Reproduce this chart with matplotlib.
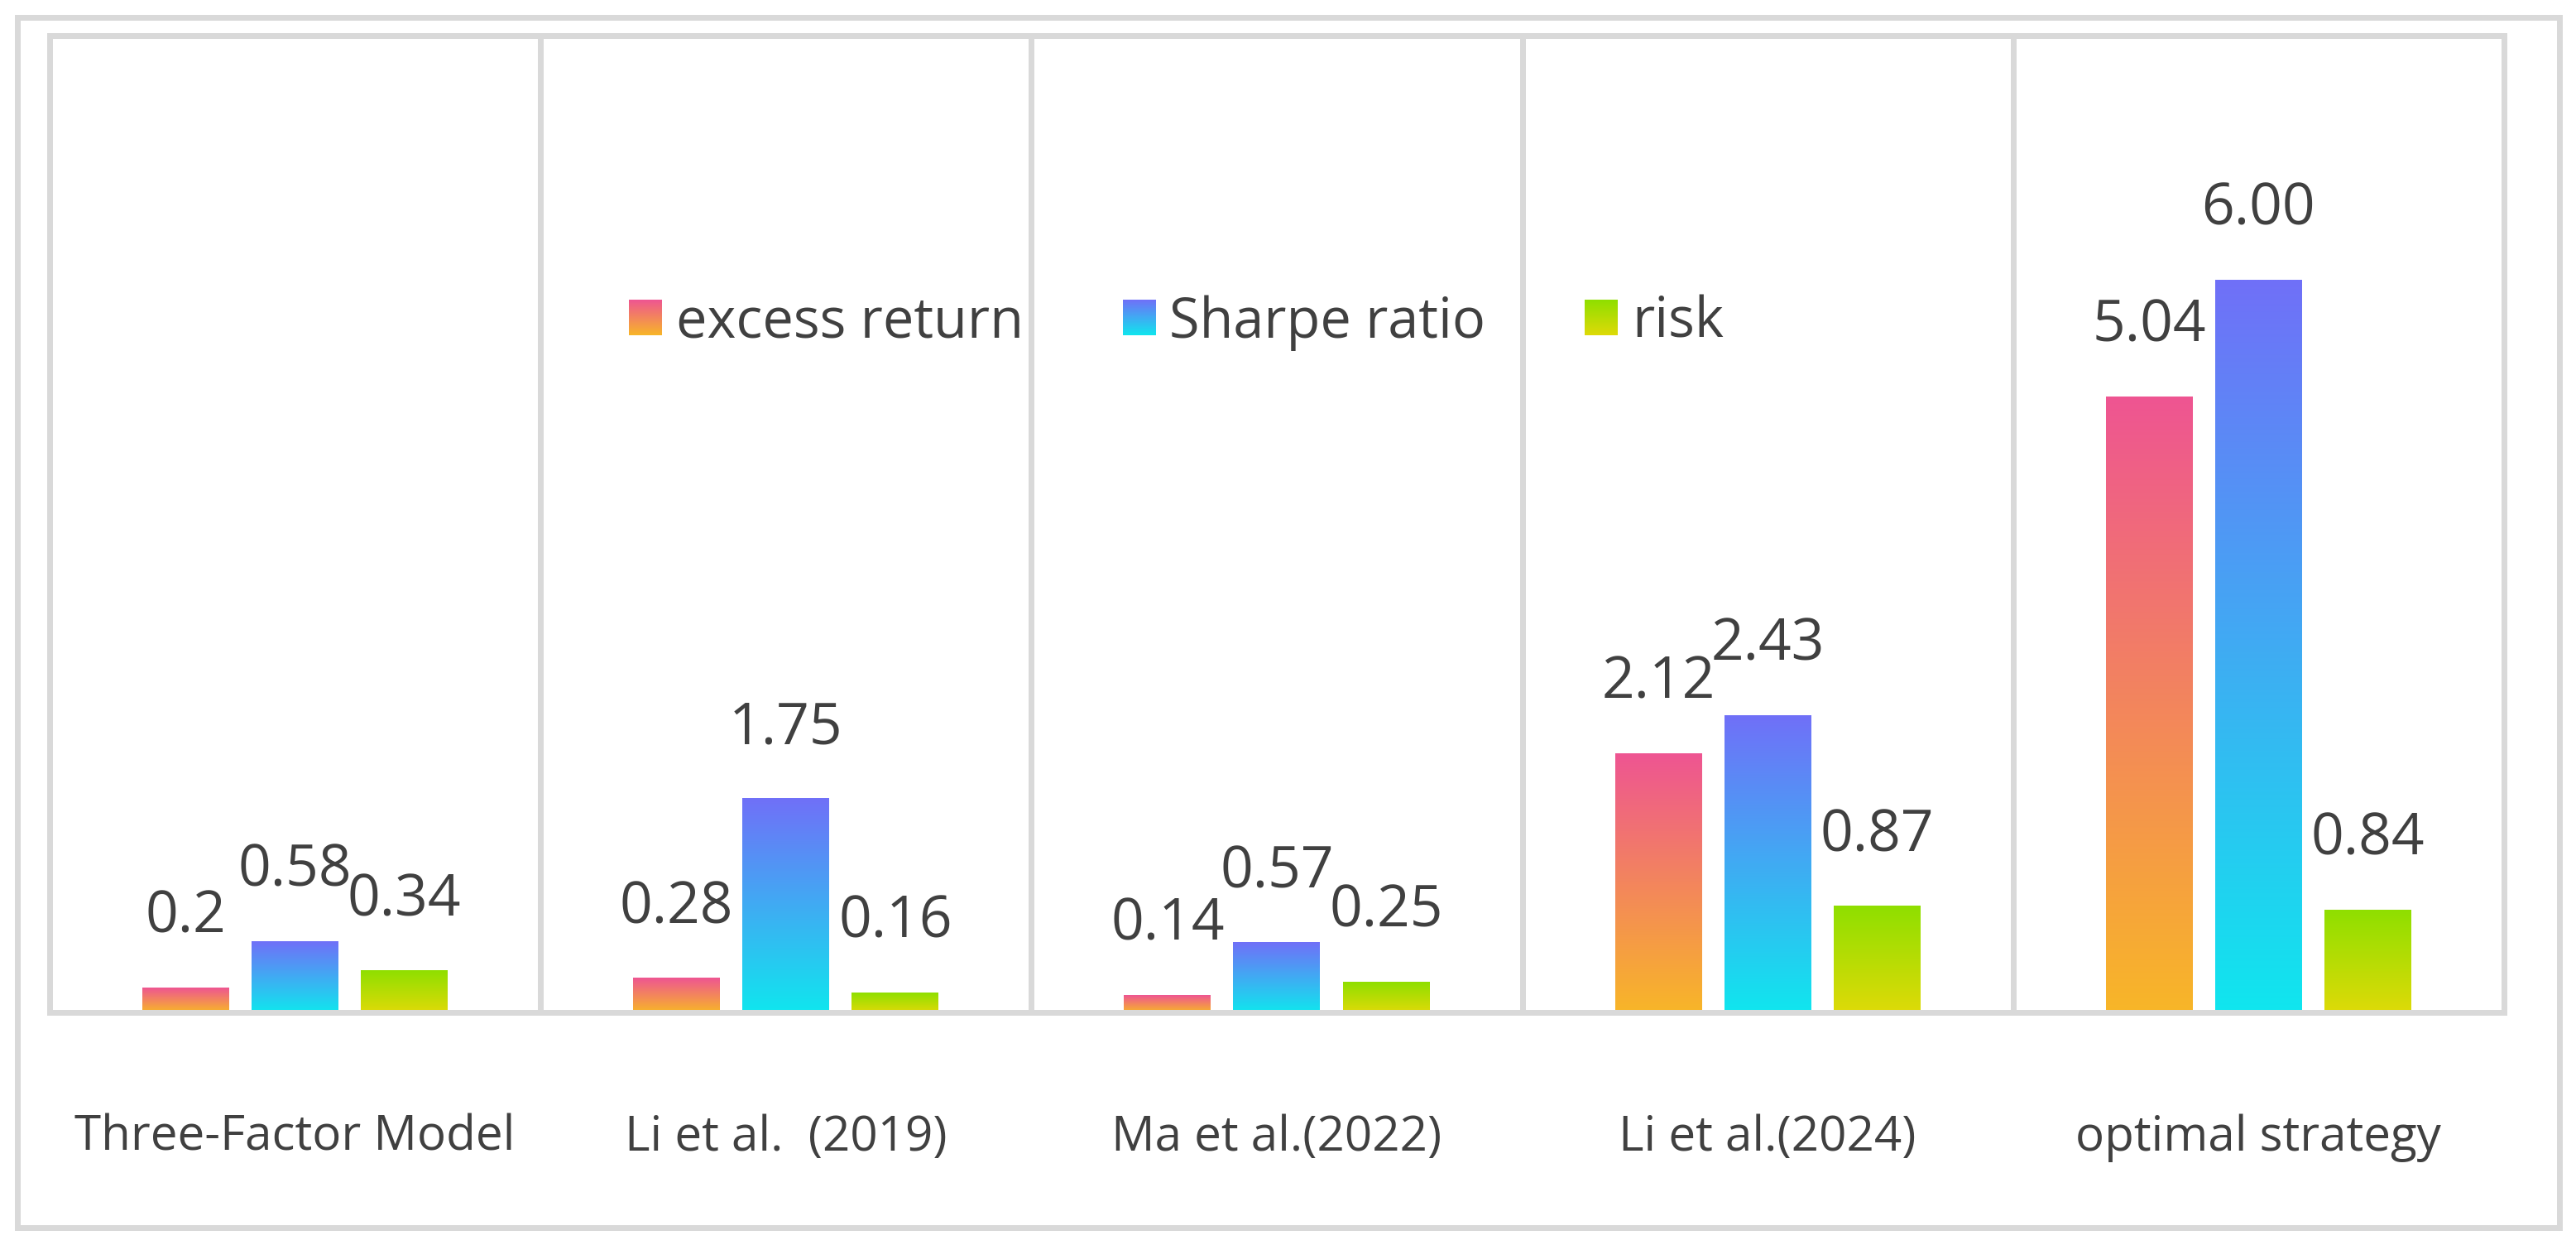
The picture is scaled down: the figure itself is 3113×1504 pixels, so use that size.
import numpy as np
import matplotlib
matplotlib.use("Agg")
import matplotlib.pyplot as plt
from matplotlib.patches import Rectangle
from matplotlib.legend_handler import HandlerBase
from matplotlib.image import BboxImage
from matplotlib.transforms import Bbox, TransformedBbox

plt.rcParams['font.family'] = ['Open Sans', 'DejaVu Sans']

categories = ['Three-Factor Model', 'Li et al.  (2019)', 'Ma et al.(2022)',
              'Li et al.(2024)', 'optimal strategy']
series_names = ['excess return', 'Sharpe ratio', 'risk']
excess_return = [0.2, 0.28, 0.14, 2.12, 5.04]
sharpe_ratio = [0.58, 1.75, 0.57, 2.43, 6.00]
risk = [0.34, 0.16, 0.25, 0.87, 0.84]
excess_labels = ['0.2', '0.28', '0.14', '2.12', '5.04']
sharpe_labels = ['0.58', '1.75', '0.57', '2.43', '6.00']
risk_labels = ['0.34', '0.16', '0.25', '0.87', '0.84']

# top colour -> bottom colour of each bar gradient
gradients = [('#EE5592', '#F8B628'),
             ('#7070F8', '#10E6EE'),
             ('#8FDF00', '#DEDA08')]

GREY = '#D9D9D9'
TEXT = '#404040'


def grad_array(top, bottom, n=256):
    t = np.linspace(0, 1, n)[:, None]
    c0 = np.array(matplotlib.colors.to_rgb(top))
    c1 = np.array(matplotlib.colors.to_rgb(bottom))
    return (c0 * (1 - t) + c1 * t).reshape(n, 1, 3)


class GradHandler(HandlerBase):
    def __init__(self, top, bottom):
        super().__init__()
        self.arr = grad_array(top, bottom)

    def create_artists(self, legend, orig_handle, xdescent, ydescent,
                       width, height, fontsize, trans):
        bb = TransformedBbox(Bbox.from_bounds(-xdescent, -ydescent, width, height), trans)
        img = BboxImage(bb, origin='upper', interpolation='bilinear')
        img.set_data(self.arr)
        return [img]


fig = plt.figure(figsize=(31.13, 15.04), dpi=100)
ax = fig.add_axes([0.01927, 0.18684, 0.95278, 0.78457])

x = np.arange(len(categories))
width = 0.177
step = 0.2226
data = [excess_return, sharpe_ratio, risk]
labels = [excess_labels, sharpe_labels, risk_labels]

for i, (vals, labs, (top, bot)) in enumerate(zip(data, labels, gradients)):
    bars = ax.bar(x + (i - 1) * step, vals, width, color='none', zorder=2)
    for b, lab in zip(bars, labs):
        x0, y0 = b.get_xy()
        ax.imshow(grad_array(top, bot), extent=[x0, x0 + b.get_width(), y0, y0 + b.get_height()],
                  origin='upper', aspect='auto', interpolation='bilinear', zorder=2)
        ax.annotate(lab, (b.get_x() + b.get_width() / 2, b.get_height()),
                    xytext=(0, 48), textcoords='offset points', ha='center',
                    va='baseline', fontsize=50, color=TEXT)

for d in [0.5, 1.5, 2.5, 3.5]:
    ax.axvline(d, color=GREY, lw=5.04, zorder=1)

ax.set_xlim(-0.5, len(categories) - 0.5)
ax.set_ylim(0, 8)
ax.set_xticks([])
ax.set_yticks([])
for s in ax.spines.values():
    s.set_color(GREY)
    s.set_linewidth(5.04)

for xi, c in zip(x, categories):
    ax.text(xi, -0.1415, c, transform=ax.get_xaxis_transform(), ha='center',
            va='baseline', fontsize=42, color=TEXT)

handles = [Rectangle((0, 0), 1, 1) for _ in series_names]
hmap = {h: GradHandler(t, b) for h, (t, b) in zip(handles, gradients)}
ax.legend(handles, series_names, handler_map=hmap, ncol=3, loc='center',
          bbox_to_anchor=(0.459, 0.706), frameon=False, fontsize=48,
          handlelength=0.6, handleheight=0.6, handletextpad=0.25,
          columnspacing=1.8, borderpad=0, labelcolor=TEXT)

fig.patches.append(Rectangle((20.5 / 3113, 1 - 1482.5 / 1504), 3072 / 3113, 1462 / 1504,
                             transform=fig.transFigure, fill=False,
                             edgecolor=GREY, lw=5.04))

fig.savefig('out.png', dpi=100, facecolor='white')
